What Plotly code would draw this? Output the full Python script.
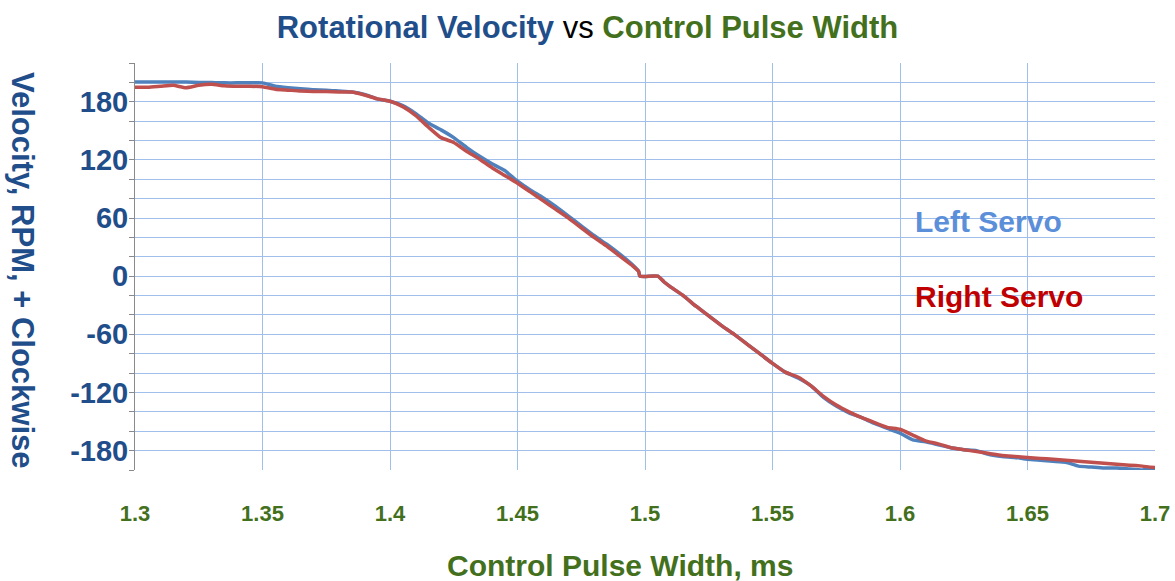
import plotly.graph_objects as go

# Control pulse width, ms
pulse_ms = [1.300, 1.305, 1.310, 1.315, 1.320, 1.325, 1.330, 1.335, 1.340, 1.345,
            1.350, 1.355, 1.360, 1.365, 1.370, 1.375, 1.380, 1.385, 1.390, 1.395,
            1.400, 1.405, 1.410, 1.415, 1.420, 1.425, 1.430, 1.435, 1.440, 1.445,
            1.450, 1.455, 1.460, 1.465, 1.470, 1.475, 1.480, 1.485, 1.490, 1.495,
            1.4975, 1.498, 1.505, 1.5075, 1.510, 1.515, 1.520, 1.525, 1.530, 1.535,
            1.540, 1.545, 1.550, 1.555, 1.560, 1.565, 1.570, 1.575, 1.580, 1.585,
            1.590, 1.595, 1.600, 1.605, 1.610, 1.615, 1.620, 1.625, 1.630, 1.635,
            1.640, 1.645, 1.650, 1.655, 1.660, 1.665, 1.670, 1.675, 1.680, 1.685,
            1.690, 1.695, 1.700]

left_servo_rpm = [200.5, 200.5, 200.5, 200.5, 200.5, 200, 200, 199.5, 199.5, 199.5,
                  199.5, 196, 194.5, 193.5, 192.5, 192, 191, 190, 187.5, 183,
                  180.5, 176, 168, 158, 151, 143, 133, 124, 116, 109,
                  98, 89, 81, 72, 62, 52, 42, 33, 23, 12,
                  5, 0, 0, -6, -11, -20, -31, -41, -51, -60,
                  -70, -80, -90, -99, -105, -113, -125, -134, -141, -146,
                  -152, -157, -162, -169, -171, -174, -177, -179, -180, -184,
                  -186, -187, -189, -190, -191, -192, -196, -197, -198, -198,
                  -199, -200, -198.5]

right_servo_rpm = [195, 195, 196, 197, 194.5, 197, 198, 196.5, 196, 196,
                   195.5, 193, 192, 191, 190.5, 190.5, 190, 190, 187, 183,
                   180.5, 175, 166, 154, 143, 138, 129, 121, 112, 104,
                   96, 87, 78, 69, 60, 50, 40, 31, 21, 11,
                   5, 0, 0, -6, -11, -20, -31, -41, -51, -60,
                   -70, -80, -90, -99, -104, -113, -124, -133, -140, -146,
                   -151, -156, -158, -164, -170, -173, -177, -179, -181, -183,
                   -185, -186, -187, -188, -189, -190, -191, -192, -193, -194,
                   -195, -196, -197.5]

y_tick_vals = [-180, -120, -60, 0, 60, 120, 180]
y_tick_text = ["-180", "-120", "-60", "0", "60", "120", "180"]
x_tick_vals = [1.3, 1.35, 1.4, 1.45, 1.5, 1.55, 1.6, 1.65, 1.7]
x_tick_text = ["1.3", "1.35", "1.4", "1.45", "1.5", "1.55", "1.6", "1.65", "1.7"]

series_names = ["Left Servo", "Right Servo"]
x_title = "Control Pulse Width, ms"
y_title = "Velocity, RPM, + Clockwise"

FONT = "Arial, 'Liberation Sans', sans-serif"
BLUE_DARK = "#1f4e8a"
GREEN = "#43701c"
GRID = "#a0bfea"

fig = go.Figure()
fig.add_trace(go.Scatter(x=pulse_ms, y=left_servo_rpm, mode="lines", name=series_names[0],
                         line=dict(color="#4f81bd", width=3.5, shape="spline", smoothing=0.5)))
fig.add_trace(go.Scatter(x=pulse_ms, y=right_servo_rpm, mode="lines", name=series_names[1],
                         line=dict(color="#c0504d", width=3.5, shape="spline", smoothing=0.5)))

fig.update_layout(
    width=1175, height=581,
    margin=dict(l=135, r=20, t=63, b=111, autoexpand=False),
    paper_bgcolor="white", plot_bgcolor="white",
    showlegend=False,
    font=dict(family=FONT),
    title=dict(
        text=("<b><span style='color:%s'>Rotational Velocity</span></b>"
              " <span style='color:black'>vs</span> "
              "<b><span style='color:%s'>Control Pulse Width</span></b>") % (BLUE_DARK, GREEN),
        font=dict(family=FONT, size=31),
        x=0.5, xref="container", xanchor="center",
        y=1 - 27 / 581, yref="container", yanchor="middle",
    ),
)

fig.update_xaxes(
    range=[1.3, 1.7], tickmode="array", tickvals=x_tick_vals, ticktext=x_tick_text,
    showgrid=True, gridcolor=GRID, gridwidth=1.4,
    zeroline=False, showline=False, ticks="", automargin=False,
    tickfont=dict(family=FONT, size=22, color=GREEN, weight="bold"),
    ticklabelstandoff=28,
)
fig.update_yaxes(
    range=[-200, 220], tickmode="array", tickvals=y_tick_vals, ticktext=y_tick_text,
    showgrid=True, gridcolor=GRID, gridwidth=1.4,
    zeroline=False, showline=True, linecolor="#8a8a8a", linewidth=1,
    ticks="outside", ticklen=5, tickcolor="#8a8a8a", automargin=False,
    tickfont=dict(family=FONT, size=29, color=BLUE_DARK, weight="bold"),
    ticklabelstandoff=-5,
    minor=dict(dtick=20, tick0=0, showgrid=True, gridcolor=GRID, gridwidth=1.4,
               ticks="outside", ticklen=5, tickcolor="#8a8a8a"),
)

fig.add_annotation(text="<b>%s</b>" % x_title, xref="paper", yref="paper",
                   x=(620 - 135) / 1020, y=(470 - 565) / 407, xanchor="center", yanchor="middle",
                   showarrow=False, font=dict(family=FONT, size=30, color=GREEN))
fig.add_annotation(text="<b>%s</b>" % y_title, xref="paper", yref="paper",
                   x=(23 - 135) / 1020, y=(470 - 270) / 407, xanchor="center", yanchor="middle",
                   textangle=90, showarrow=False, font=dict(family=FONT, size=31, color=BLUE_DARK))
fig.add_annotation(text="<b>%s</b>" % series_names[0], xref="paper", yref="paper",
                   x=(913 - 135) / 1020, y=(470 - 222) / 407, xanchor="left", yanchor="middle",
                   showarrow=False, font=dict(family=FONT, size=30, color="#5b8fd9"))
fig.add_annotation(text="<b>%s</b>" % series_names[1], xref="paper", yref="paper",
                   x=(913 - 135) / 1020, y=(470 - 296) / 407, xanchor="left", yanchor="middle",
                   showarrow=False, font=dict(family=FONT, size=30, color="#c00000"))

fig.write_html("out.html", config={"displayModeBar": False},
               post_script="document.body.style.margin='0px';")
